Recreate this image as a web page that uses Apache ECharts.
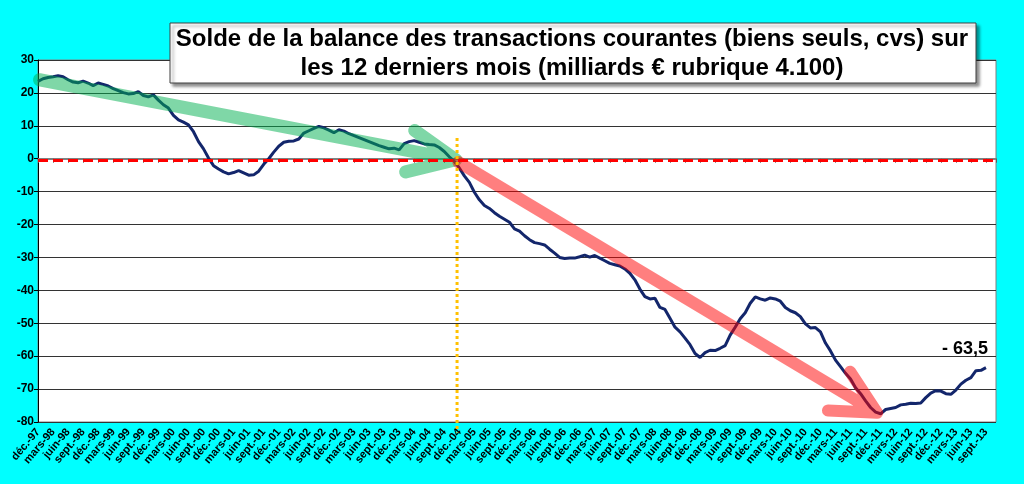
<!DOCTYPE html>
<html>
<head>
<meta charset="utf-8">
<script src="https://cdn.jsdelivr.net/npm/echarts@6/dist/echarts.min.js"></script>
<style>
  html, body { margin: 0; padding: 0; background: #00ffff; }
  #chart { width: 1024px; height: 484px; }
</style>
</head>
<body>
<div id="chart"></div>
<script>
// Month names used for the x axis (one category per month)
const monthNames = ["janv.", "févr.", "mars", "avr.", "mai", "juin", "juil.", "août", "sept.", "oct.", "nov.", "déc."];
const firstYear = 1997;
const firstMonth = 11; // déc.
const monthCount = 192; // déc.-97 .. nov.-13
const labelStep = 3;    // one label per quarter

// Solde sur 12 mois glissants, milliards € (déc.-97 .. sept.-13)
const solde = [
  23.5, 24.3, 24.7, 24.9, 25.2, 24.9, 24.0, 23.3, 23.1, 23.6,
  23.0, 22.2, 23.0, 22.6, 22.1, 21.3, 20.7, 20.1, 19.7, 19.8,
  20.4, 19.2, 18.8, 19.4, 17.8, 16.4, 15.4, 13.2, 11.8, 11.1,
  10.3, 8.2, 5.2, 3.0, 0.2, -2.1, -3.1, -4.0, -4.6, -4.2,
  -3.6, -4.3, -5.0, -4.9, -3.8, -1.7, 0.0, 2.0, 3.8, 5.0,
  5.3, 5.4, 6.0, 7.8, 8.5, 9.2, 9.8, 9.4, 8.7, 7.9,
  8.8, 8.4, 7.6, 7.0, 6.4, 5.8, 5.2, 4.6, 4.0, 3.5,
  3.0, 3.2, 2.7, 4.6, 5.2, 5.5, 5.0, 4.5, 4.3, 4.2,
  3.4, 2.2, 0.6, -0.8, -2.8, -5.2, -7.2, -10.2, -12.5, -14.2,
  -15.1, -16.4, -17.5, -18.4, -19.3, -21.3, -22.0, -23.4, -24.6, -25.5,
  -25.8, -26.2, -27.5, -28.7, -30.0, -30.3, -30.2, -30.2, -29.8, -29.3,
  -29.9, -29.4, -30.2, -31.0, -31.8, -32.2, -32.6, -33.5, -34.8, -36.8,
  -39.6, -41.9, -42.6, -42.4, -45.2, -45.8, -48.5, -51.2, -52.6, -54.5,
  -56.5, -59.2, -60.4, -58.9, -58.2, -58.3, -57.6, -56.8, -53.6, -51.2,
  -48.6, -46.8, -43.9, -42.0, -42.6, -43.0, -42.3, -42.6, -43.3, -45.2,
  -46.2, -46.8, -48.0, -50.2, -51.4, -51.3, -52.6, -56.0, -58.4, -61.2,
  -63.2, -65.2, -66.9, -69.6, -71.4, -73.6, -75.6, -77.0, -77.5, -76.2,
  -75.9, -75.6, -74.8, -74.6, -74.3, -74.4, -74.2, -72.6, -71.2, -70.5,
  -70.6, -71.4, -71.6, -70.3, -68.5, -67.3, -66.5, -64.4, -64.3, -63.5
];

// Annotation arrows, in [month index, value]
const greenArrow = [[0.3, 24.0], [83.3, -0.3], [75.1, 8.6], ["-", "-"], [83.3, -0.3], [73.3, -4.0]];
const redArrow = [[83.8, -1.0], [167.3, -77.2], [161.9, -64.7], ["-", "-"], [167.3, -77.2], [157.5, -76.5]];
const dec04Line = [[83.55, 6.3], [83.55, -83.2]];
const zeroLevel = -0.6;
const lastLabel = "- 63,5";

const title = ["Solde de la balance des transactions courantes (biens seuls, cvs) sur",
               "les 12 derniers mois (milliards € rubrique 4.100)"];

// Build monthly category labels
const categories = [];
for (let k = 0; k < monthCount; k++) {
  const m = (firstMonth + k) % 12;
  const y = firstYear + Math.floor((firstMonth + k) / 12);
  categories.push(monthNames[m] + "-" + String(y % 100).padStart(2, "0"));
}
const lastLabelled = solde.length - 1;

const font = "Liberation Sans, Arial, sans-serif";
const chart = echarts.init(document.getElementById("chart"), null, { renderer: "canvas" });

const option = {
  backgroundColor: "#00ffff",
  animation: false,
  grid: {
    left: 38, right: 28, top: 60, bottom: 62,
    show: true, backgroundColor: "#ffffff", borderColor: "#808080", borderWidth: 1
  },
  xAxis: [
    {
      type: "category",
      data: categories,
      boundaryGap: false,
      axisLine: { lineStyle: { color: "#808080", width: 2 } },
      axisTick: { interval: labelStep - 1, length: 4, lineStyle: { color: "#606060" } },
      axisLabel: {
        interval: 0, rotate: 50, margin: 8,
        // only quarterly months get a label, as in the original
        formatter: (value, idx) => (idx % labelStep === 0 && idx <= lastLabelled ? value : ""),
        fontFamily: font, fontWeight: "bold", fontSize: 11, color: "#000"
      },
      splitLine: { show: false }
    },
    { type: "value", min: 0, max: monthCount - 1, show: false }
  ],
  yAxis: {
    type: "value",
    min: -80, max: 30, interval: 10,
    axisLine: { show: true, lineStyle: { color: "#000", width: 1 } },
    axisTick: { show: true, length: 4, lineStyle: { color: "#000" } },
    axisLabel: { fontFamily: font, fontWeight: "bold", fontSize: 12, color: "#000", margin: 4 },
    splitLine: { lineStyle: { color: "#333", width: 1 } }
  },
  series: [
    {
      name: "solde",
      type: "line",
      data: solde,
      symbol: "none",
      z: 3,
      lineStyle: { color: "#13266b", width: 3 },
      markLine: {
        silent: true, symbol: "none",
        label: { show: false },
        lineStyle: { color: "#ff0000", width: 3, type: [10, 5] },
        data: [{ yAxis: zeroLevel }],
        z: 6
      },
      markPoint: {
        symbol: "circle",
        symbolSize: 2,
        itemStyle: { color: "transparent" },
        data: [{ coord: [solde.length - 1, solde[solde.length - 1]] }],
        label: {
          show: true, position: "inside", formatter: lastLabel, offset: [-21, -19],
          fontFamily: font, fontWeight: "bold", fontSize: 18, color: "#000"
        }
      }
    },
    {
      name: "tendance 1998-2004",
      type: "line",
      xAxisIndex: 1,
      data: greenArrow,
      symbol: "none",
      z: 4,
      connectNulls: false,
      lineStyle: { color: "#00b050", width: 13, opacity: 0.5, cap: "round", join: "round" }
    },
    {
      name: "tendance 2005-2011",
      type: "line",
      xAxisIndex: 1,
      data: redArrow,
      symbol: "none",
      z: 4,
      connectNulls: false,
      lineStyle: { color: "#ff0000", width: 12, opacity: 0.5, cap: "round", join: "round" }
    },
    {
      name: "déc.-04",
      type: "line",
      xAxisIndex: 1,
      data: dec04Line,
      symbol: "none",
      clip: false,
      z: 5,
      lineStyle: { color: "#ffc000", width: 3, type: [3, 3] }
    }
  ],
  graphic: [
    {
      type: "rect",
      shape: { x: 170, y: 23, width: 806, height: 60 },
      style: {
        fill: "#ffffff", stroke: "#404040", lineWidth: 1,
        shadowColor: "rgba(0,0,0,0.45)", shadowOffsetX: 3, shadowOffsetY: 3, shadowBlur: 3
      },
      z: 10
    },
    {
      type: "text",
      x: 572, y: 39,
      style: {
        text: title[0], align: "center", verticalAlign: "middle",
        font: "bold 24px " + font, fill: "#000"
      },
      z: 11
    },
    {
      type: "text",
      x: 572, y: 68,
      style: {
        text: title[1], align: "center", verticalAlign: "middle",
        font: "bold 24px " + font, fill: "#000"
      },
      z: 11
    }
  ]
};

chart.setOption(option);
</script>
</body>
</html>
